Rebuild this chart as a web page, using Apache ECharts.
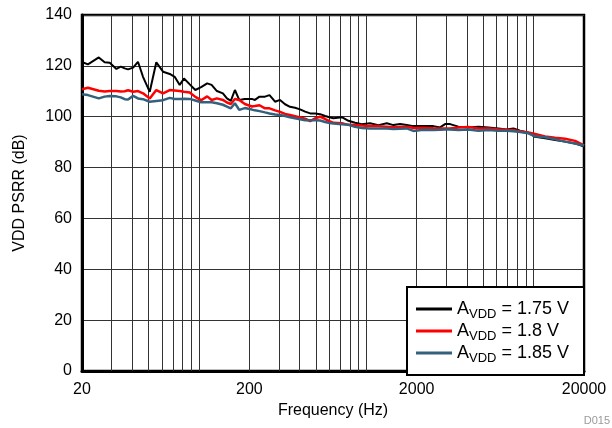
<!DOCTYPE html>
<html>
<head>
<meta charset="utf-8">
<script src="https://cdn.jsdelivr.net/npm/echarts@6/dist/echarts.min.js"></script>
<style>
html,body{margin:0;padding:0;background:#fff;}
#c{width:612px;height:428px;}
</style>
</head>
<body>
<div id="c"></div>
<script>
const freqHz = [20, 21.7, 25.2, 27.3, 29.3, 32.1, 34.1, 36.0, 37.7, 40.4,
  43.2, 46.3, 50.8, 55.6, 61.0, 66.9, 71.6, 76.7, 81.4, 88.1,
  95.1, 103, 112, 119, 128, 139, 147, 155, 164, 174,
  188, 207, 216, 230, 248, 264, 285, 305, 327, 350,
  375, 402, 431, 462, 495, 530, 568, 602, 636, 714,
  782, 857, 940, 1053, 1181, 1326, 1451, 1592, 1745, 1911,
  2193, 2517, 2760, 2956, 3167, 3550, 4075, 4675, 5366, 6156,
  6910, 7568, 8299, 9305, 10204, 11710, 13438, 15417, 17693, 20000];

const psrr175 = [121.5, 120.6, 123.3, 121.4, 121.2, 118.8, 119.7, 119.0, 118.6, 119.3,
  121.6, 115.7, 109.8, 121.4, 117.7, 116.8, 115.7, 112.5, 115.0, 112.7,
  110.5, 111.6, 113.1, 112.5, 110.1, 109.2, 107.2, 106.2, 110.5, 106.6,
  107.0, 107.0, 106.6, 107.9, 107.9, 108.5, 105.9, 106.6, 104.9, 103.9,
  103.5, 102.9, 102.0, 101.3, 101.3, 101.0, 100.3, 99.8, 99.4, 99.8,
  98.4, 97.6, 97.0, 97.4, 96.7, 97.4, 96.7, 97.1, 96.7, 96.3,
  96.3, 96.3, 95.8, 97.1, 97.1, 96.1, 95.8, 96.1, 95.8, 95.4,
  95.0, 95.4, 94.5, 93.7, 92.1, 91.5, 90.8, 90.2, 89.5, 88.3];

const psrr18 = [110.8, 111.4, 110.2, 109.9, 110.1, 110.1, 109.9, 110.0, 110.4, 109.8,
  110.1, 109.2, 107.2, 110.5, 109.2, 110.5, 110.3, 110.1, 109.8, 109.5,
  107.8, 106.5, 108.0, 106.6, 107.2, 106.6, 105.6, 105.0, 107.0, 106.6,
  105.0, 104.0, 104.2, 104.5, 103.3, 103.3, 102.5, 101.9, 101.1, 100.7,
  100.2, 99.7, 99.2, 98.3, 99.4, 100.0, 99.1, 98.3, 97.6, 97.4,
  96.8, 96.7, 96.5, 96.3, 96.3, 96.1, 95.9, 96.0, 96.1, 95.6,
  95.7, 95.5, 95.4, 95.4, 95.4, 95.8, 96.0, 95.4, 95.4, 95.1,
  94.9, 94.7, 94.3, 93.8, 93.2, 92.2, 91.7, 91.3, 90.5, 88.7];

const psrr185 = [108.8, 108.5, 107.2, 107.9, 108.1, 108.0, 107.6, 106.9, 106.8, 108.2,
  107.2, 106.9, 105.9, 106.2, 106.5, 107.4, 107.0, 107.0, 107.1, 107.0,
  106.4, 105.7, 105.7, 105.7, 105.3, 104.7, 104.0, 103.3, 105.3, 102.7,
  103.4, 102.8, 102.5, 102.2, 101.7, 101.3, 100.9, 100.7, 100.3, 99.8,
  99.4, 99.0, 98.6, 98.6, 98.6, 98.5, 97.9, 97.5, 97.3, 97.0,
  96.8, 96.0, 95.6, 95.4, 95.4, 95.4, 95.2, 95.3, 95.4, 94.4,
  94.9, 94.8, 94.9, 95.0, 95.0, 94.8, 95.0, 94.5, 94.8, 94.5,
  94.5, 94.3, 94.0, 93.5, 92.3, 91.9, 91.1, 90.2, 89.5, 88.7];

const seriesNames = ['AVDD = 1.75 V', 'AVDD = 1.8 V', 'AVDD = 1.85 V'];
const legendValues = ['1.75 V', '1.8 V', '1.85 V'];
const xLabelValues = [20, 200, 2000, 20000];
const xGridValues = [30, 40, 50, 60, 70, 80, 90, 100, 200, 300, 400, 500, 600, 700, 800, 900,
  1000, 2000, 3000, 4000, 5000, 6000, 7000, 8000, 9000, 10000];

const FONT = 'Liberation Sans, Arial, Helvetica, sans-serif';
const chart = echarts.init(document.getElementById('c'), null, {renderer: 'canvas'});

function pairs(vals) { return freqHz.map((f, i) => [f, vals[i]]); }

const colors = ['#000000', '#ff0000', '#33617d'];
const widths = [2, 2.5, 2.5];
const allVals = [psrr175, psrr18, psrr185];

const series = allVals.map((vals, k) => ({
  name: seriesNames[k],
  type: 'line',
  data: pairs(vals),
  symbol: 'none',
  smooth: false,
  animation: false,
  lineStyle: {color: colors[k], width: widths[k]},
  itemStyle: {color: colors[k]},
  z: 3 + k,
  markLine: k === 0 ? {
    silent: true,
    symbol: ['none', 'none'],
    label: {show: false},
    animation: false,
    z: 1,
    lineStyle: {color: '#333', width: 1, type: 'solid'},
    data: xGridValues.map(v => ({xAxis: v}))
  } : undefined
}));

chart.setOption({
  backgroundColor: '#fff',
  animation: false,
  grid: {left: 82, right: 28, top: 15, bottom: 57, show: true, borderColor: '#000', borderWidth: 2.5, containLabel: false},
  xAxis: {
    type: 'log', logBase: 10, min: 20, max: 20000,
    name: 'Frequency (Hz)', nameLocation: 'middle', nameGap: 29,
    nameTextStyle: {fontFamily: FONT, fontSize: 16, color: '#000'},
    axisLine: {show: true, lineStyle: {color: '#000', width: 3}},
    axisTick: {show: false},
    splitLine: {show: false},
    minorSplitLine: {show: false},
    axisLabel: {customValues: xLabelValues, fontFamily: FONT, fontSize: 16, color: '#000', margin: 11,
      formatter: v => String(Math.round(v))}
  },
  yAxis: {
    type: 'value', min: 0, max: 140, interval: 20,
    name: 'VDD PSRR (dB)', nameLocation: 'middle', nameGap: 54,
    nameTextStyle: {fontFamily: FONT, fontSize: 16, color: '#000'},
    axisLine: {show: true, lineStyle: {color: '#000', width: 3}},
    axisTick: {show: false},
    splitLine: {show: true, lineStyle: {color: '#333', width: 1}},
    axisLabel: {fontFamily: FONT, fontSize: 16, color: '#000', margin: 10}
  },
  legend: {
    show: true,
    orient: 'vertical',
    left: 407, top: 287,
    backgroundColor: '#fff',
    borderColor: '#000', borderWidth: 2,
    padding: [10, 15, 10, 9],
    icon: 'rect',
    itemWidth: 36, itemHeight: 3, itemGap: -2,
    data: seriesNames,
    formatter: function (name) {
      const i = seriesNames.indexOf(name);
      return '{a|A}{s|VDD}{a| = ' + legendValues[i] + '}';
    },
    textStyle: {
      fontFamily: FONT, color: '#000',
      rich: {
        a: {fontFamily: FONT, fontSize: 18, lineHeight: 20, color: '#000'},
        s: {fontFamily: FONT, fontSize: 13, lineHeight: 20, padding: [11, 0, 0, 0], color: '#000'}
      }
    }
  },
  graphic: [{
    type: 'text', right: 2, bottom: 2,
    style: {text: 'D015', fontFamily: FONT, fontSize: 11, fill: '#9a9a9a'}
  }],
  series: series
});
</script>
</body>
</html>
